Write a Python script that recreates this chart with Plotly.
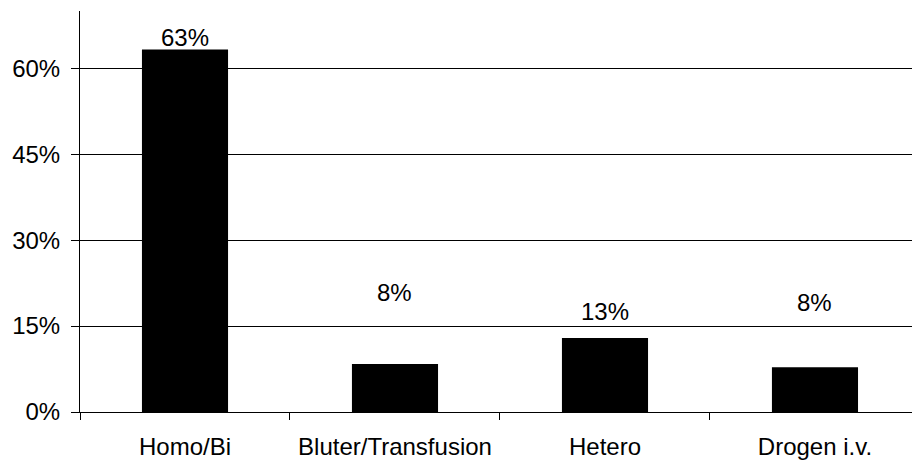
import plotly.graph_objects as go

# Shares per transmission route (percent)
categories = ["Homo/Bi", "Bluter/Transfusion", "Hetero", "Drogen i.v."]
shares = [63.3, 8.4, 12.9, 7.8]

# Vertical offset (px) of each value label above its bar
label_lift = [12, 71, 27, 65]

y_ticks = [0, 15, 30, 45, 60]
y_tick_text = [f"{t}%" for t in y_ticks]

FONT = dict(family="Liberation Sans, Arial, sans-serif", size=24, color="black")

fig = go.Figure(
    go.Bar(
        x=categories,
        y=shares,
        width=0.41,
        marker=dict(color="black", line=dict(width=0)),
        hoverinfo="skip",
    )
)

for cat, val, lift in zip(categories, shares, label_lift):
    fig.add_annotation(
        x=cat,
        y=val,
        text=f"{val:.0f}%",
        showarrow=False,
        xanchor="center",
        yanchor="middle",
        yshift=lift,
        font=FONT,
    )

fig.update_layout(
    width=912,
    height=464,
    margin=dict(l=80, r=0, t=11, b=52),
    paper_bgcolor="white",
    plot_bgcolor="white",
    showlegend=False,
    font=FONT,
    xaxis=dict(
        type="category",
        range=[-0.5, 3.462],
        showline=True,
        linecolor="black",
        linewidth=1,
        ticks="outside",
        tickson="boundaries",
        ticklen=7,
        tickcolor="black",
        tickwidth=1,
        ticklabelstandoff=13,
        showgrid=False,
        tickfont=FONT,
    ),
    yaxis=dict(
        range=[0, 70],
        tickvals=y_ticks,
        ticktext=y_tick_text,
        showline=True,
        linecolor="black",
        linewidth=1,
        ticks="outside",
        ticklen=8,
        tickcolor="black",
        tickwidth=1,
        ticklabelstandoff=6,
        showgrid=True,
        gridcolor="black",
        gridwidth=1,
        zeroline=False,
        tickfont=FONT,
    ),
)

fig.write_html("out.html")
